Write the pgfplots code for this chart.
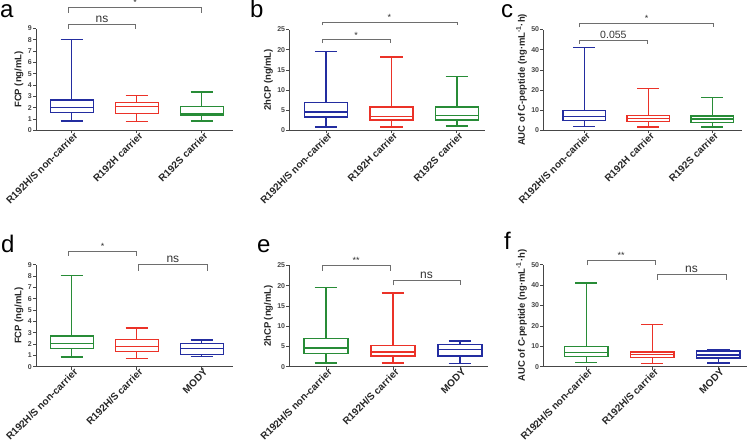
\documentclass[border=0pt]{standalone}
\usepackage{fontspec}
\setmainfont{Liberation Sans}
\usepackage{pgfplots}
\pgfplotsset{compat=1.18}
\usepgfplotslibrary{statistics}

\definecolor{cblue}{RGB}{35,45,160}
\definecolor{cred}{RGB}{235,50,40}
\definecolor{cgreen}{RGB}{40,140,55}
\definecolor{caxis}{RGB}{70,70,70}
\definecolor{cbr}{RGB}{110,110,110}

\pgfplotsset{
  panel/.style={
    scale only axis,
    anchor=south west,
    axis x line=bottom, axis y line=left,
    axis line style={-, caxis, line width=0.8pt},
    tick align=outside,
    major tick length=3pt,
    tick style={caxis, line width=0.8pt},
    ymin=0,
    xtick={0,1,2},
    xticklabel style={rotate=45, anchor=north east, xshift=3pt, yshift=1pt, font=\bfseries\fontsize{10}{10}\selectfont, inner sep=0.5pt, text=black!85},
    yticklabel style={font=\bfseries\fontsize{7}{8}\selectfont, inner sep=1pt, text=caxis},
    /pgf/number format/assume math mode=true,
    ylabel style={font=\bfseries\fontsize{9.5}{10}\selectfont, text=black!85},
    clip=false,
    boxplot/draw direction=y,
  },
  bx/.style={line width=1.4pt, solid, fill=none},
}
\newcommand{\bxp}[7]{\addplot[#1, bx, boxplot prepared={draw position=#2, lower whisker=#3, lower quartile=#4, median=#5, upper quartile=#6, upper whisker=#7, box extend=0.66, whisker extend=0.34}] coordinates {};}
% bracket: x1 x2 ybottom yline label font
\newcommand{\brk}[6]{\draw[cbr, line width=0.7pt] (axis cs:#1,#3) -- (axis cs:#1,#4) -- (axis cs:#2,#4) -- (axis cs:#2,#3);
  \node[above, inner sep=1.5pt, font=#6, text=black!80] at (axis cs:{(#1+#2)/2},#4) {#5};}

\begin{document}
\begin{tikzpicture}
\path[use as bounding box] (0,0) rectangle (748pt,445pt);

% ---------- a ----------
\begin{axis}[panel, at={(36pt,314.5pt)}, width=197pt, height=102pt,
  xmin=-0.55, xmax=2.48, ymax=9, ytick={0,1,...,9},
  xticklabels={R192H/S non-carrier, R192H carrier, R192S carrier},
  ylabel={FCP (ng/mL)}]
\bxp{cblue}{0}{0.85}{1.6}{2.05}{2.7}{8.05}
\bxp{cred}{1}{0.8}{1.5}{2.1}{2.45}{3.1}
\bxp{cgreen}{2}{0.85}{1.3}{1.45}{2.1}{3.4}
\brk{-0.05}{0.98}{9.0}{9.37}{ns}{\fontsize{12}{12}\selectfont}
\brk{-0.05}{2.0}{10.4}{10.84}{*}{\fontsize{9}{9}\selectfont}
\end{axis}

% ---------- b ----------
\begin{axis}[panel, at={(289.3pt,314.5pt)}, width=195.7pt, height=101pt,
  xmin=-0.56, xmax=2.43, ymax=25, ytick={0,5,...,25},
  xticklabels={R192H/S non-carrier, R192H carrier, R192S carrier},
  ylabel={2hCP (ng/mL)}]
\bxp{cblue}{0}{0.9}{3.3}{4.6}{6.9}{19.6}
\bxp{cred}{1}{0.9}{2.6}{3.5}{5.8}{18.2}
\bxp{cgreen}{2}{1.1}{2.6}{3.7}{5.8}{13.3}
\brk{-0.06}{0.98}{21.6}{22.45}{*}{\fontsize{9}{9}\selectfont}
\brk{-0.06}{2.0}{26.0}{26.8}{*}{\fontsize{9}{9}\selectfont}
\end{axis}

% ---------- c ----------
\begin{axis}[panel, at={(543.3pt,314.5pt)}, width=198.4pt, height=101pt,
  xmin=-0.64, xmax=2.46, ymax=50, ytick={0,10,...,50},
  xticklabels={R192H/S non-carrier, R192H carrier, R192S carrier},
  ylabel={AUC of C-peptide (ng·mL\textsuperscript{-1}·h)}]
\bxp{cblue}{0}{2.0}{5.0}{7.0}{9.8}{41}
\bxp{cred}{1}{1.7}{4.6}{5.8}{7.3}{20.7}
\bxp{cgreen}{2}{1.8}{4.1}{5.6}{7.1}{16.4}
\brk{-0.07}{0.98}{43.0}{44.6}{0.055}{\fontsize{10.5}{10.5}\selectfont}
\brk{-0.07}{2.02}{51.1}{53.1}{*}{\fontsize{9}{9}\selectfont}
\end{axis}

% ---------- d ----------
\begin{axis}[panel, at={(36pt,78.3pt)}, width=197pt, height=102pt,
  xmin=-0.55, xmax=2.48, ymax=9, ytick={0,1,...,9},
  xticklabels={R192H/S non-carrier, R192H/S carrier, MODY},
  ylabel={FCP (ng/mL)}]
\bxp{cgreen}{0}{0.85}{1.6}{2.05}{2.7}{8.05}
\bxp{cred}{1}{0.75}{1.35}{1.8}{2.4}{3.4}
\bxp{cblue}{2}{0.9}{1.1}{1.6}{2.05}{2.35}
\brk{-0.05}{1.0}{9.8}{10.2}{*}{\fontsize{9}{9}\selectfont}
\brk{1.02}{2.09}{8.48}{9.03}{ns}{\fontsize{12}{12}\selectfont}
\end{axis}

% ---------- e ----------
\begin{axis}[panel, at={(289.3pt,78.3pt)}, width=198.7pt, height=101.3pt,
  xmin=-0.55, xmax=2.42, ymax=25, ytick={0,5,...,25},
  xticklabels={R192H/S non-carrier, R192H/S carrier, MODY},
  ylabel={2hCP (ng/mL)}]
\bxp{cgreen}{0}{0.9}{3.3}{4.6}{6.9}{19.6}
\bxp{cred}{1}{0.9}{2.6}{3.6}{5.3}{18.2}
\bxp{cblue}{2}{0.8}{2.6}{4.2}{5.5}{6.3}
\brk{-0.06}{0.96}{23.7}{25.0}{**}{\fontsize{9}{9}\selectfont}
\brk{1.0}{2.0}{20.05}{21.3}{ns}{\fontsize{12}{12}\selectfont}
\end{axis}

% ---------- f ----------
\begin{axis}[panel, at={(543.3pt,78.3pt)}, width=203.4pt, height=102pt,
  xmin=-0.65, xmax=2.43, ymax=50, ytick={0,10,...,50},
  xticklabels={R192H/S non-carrier, R192H/S carrier, MODY},
  ylabel={AUC of C-peptide (ng·mL\textsuperscript{-1}·h)}]
\bxp{cgreen}{0}{2.0}{5.0}{7.0}{9.8}{41}
\bxp{cred}{1}{1.7}{4.6}{5.9}{7.3}{20.7}
\bxp{cblue}{2}{1.8}{4.2}{5.8}{7.7}{8.2}
\brk{0.01}{1.05}{49.7}{52.1}{**}{\fontsize{9}{9}\selectfont}
\brk{1.07}{2.12}{42.6}{45.1}{ns}{\fontsize{12}{12}\selectfont}
\end{axis}

% panel letters
\node[anchor=base west, inner sep=0pt, font=\fontsize{24}{24}\selectfont] at (0pt,427pt) {a};
\node[anchor=base west, inner sep=0pt, font=\fontsize{24}{24}\selectfont] at (250pt,427pt) {b};
\node[anchor=base west, inner sep=0pt, font=\fontsize{24}{24}\selectfont] at (501pt,427pt) {c};
\node[anchor=base west, inner sep=0pt, font=\fontsize{24}{24}\selectfont] at (1pt,192pt) {d};
\node[anchor=base west, inner sep=0pt, font=\fontsize{24}{24}\selectfont] at (257pt,192pt) {e};
\node[anchor=base west, inner sep=0pt, font=\fontsize{24}{24}\selectfont] at (504pt,195pt) {f};
\end{tikzpicture}
\end{document}
